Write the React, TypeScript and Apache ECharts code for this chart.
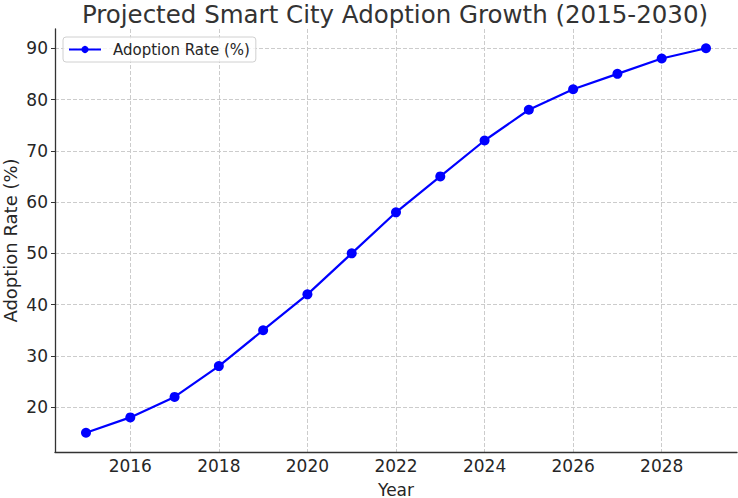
import React, { useEffect, useRef } from "react";
import * as echarts from "echarts";

const years = [2015, 2016, 2017, 2018, 2019, 2020, 2021, 2022, 2023, 2024, 2025, 2026, 2027, 2028, 2029];
const adoption = [15, 18, 22, 28, 35, 42, 50, 58, 65, 72, 78, 82, 85, 88, 90];
const xTicks = [2016, 2018, 2020, 2022, 2024, 2026, 2028];
const yTicks = [20, 30, 40, 50, 60, 70, 80, 90];

const FONT = "DejaVu Sans";
const TEXT = "#262626";

export default function App() {
  const ref = useRef<HTMLDivElement>(null);
  useEffect(() => {
    const chart = echarts.init(ref.current!, null, { renderer: "svg" });
    chart.setOption({
      animation: false,
      backgroundColor: "#ffffff",
      textStyle: { fontFamily: FONT },
      title: {
        text: "Projected Smart City Adoption Growth (2015-2030)",
        left: 390,
        textAlign: "center",
        top: -3,
        textStyle: { fontFamily: FONT, fontSize: 24.5, fontWeight: "normal", color: "#333333" },
      },
      legend: {
        left: 63,
        top: 37,
        orient: "vertical",
        itemWidth: 32,
        itemHeight: 9,
        itemGap: 6,
        padding: [5, 6, 5, 5],
        borderColor: "#d0d0d0",
        borderWidth: 1,
        borderRadius: 3,
        backgroundColor: "rgba(255,255,255,0.8)",
        textStyle: { fontFamily: FONT, fontSize: 15, color: TEXT, padding: [0, 0, 0, 7] },
        data: ["Adoption Rate (%)"],
      },
      grid: { left: 55, right: 1, top: 29, bottom: 46, containLabel: false, outerBoundsMode: "none" },
      xAxis: {
        type: "value",
        min: 2014.3,
        max: 2029.7,
        name: "Year",
        nameLocation: "middle",
        nameGap: 29,
        nameMoveOverlap: false,
        nameTextStyle: { fontFamily: FONT, fontSize: 17, color: TEXT },
        axisLine: { show: true, onZero: false, lineStyle: { color: "#333333", width: 1.3 } },
        axisTick: { show: false, customValues: xTicks },
        axisLabel: {
          customValues: xTicks,
          fontFamily: FONT,
          fontSize: 17,
          color: TEXT,
          margin: 5,
          formatter: (v: number) => String(v),
        },
        splitLine: { show: true, lineStyle: { color: "#cccccc", type: [4, 2], width: 1 } },
      },
      yAxis: {
        type: "value",
        min: 11.25,
        max: 93.75,
        name: "Adoption Rate (%)",
        nameLocation: "middle",
        nameGap: 36,
        nameMoveOverlap: false,
        nameTextStyle: { fontFamily: FONT, fontSize: 18, color: TEXT },
        axisLine: { show: true, onZero: false, lineStyle: { color: "#333333", width: 1.3 } },
        axisTick: { show: true, inside: false, length: 4, customValues: yTicks, lineStyle: { color: "#333333" } },
        axisLabel: {
          customValues: yTicks,
          fontFamily: FONT,
          fontSize: 17,
          color: TEXT,
          margin: 7,
        },
        splitLine: { show: true, lineStyle: { color: "#cccccc", type: [4, 2], width: 1 } },
      },
      series: [
        {
          name: "Adoption Rate (%)",
          type: "line",
          data: years.map((y, i) => [y, adoption[i]]),
          symbol: "circle",
          symbolSize: 10,
          lineStyle: { color: "#0000ff", width: 2.2 },
          itemStyle: { color: "#0000ff" },
          clip: false,
        },
      ],
    });
    return () => chart.dispose();
  }, []);
  return (
    <div
      ref={ref}
      style={{ position: "absolute", left: 0, top: 0, width: 738, height: 498 }}
    />
  );
}
